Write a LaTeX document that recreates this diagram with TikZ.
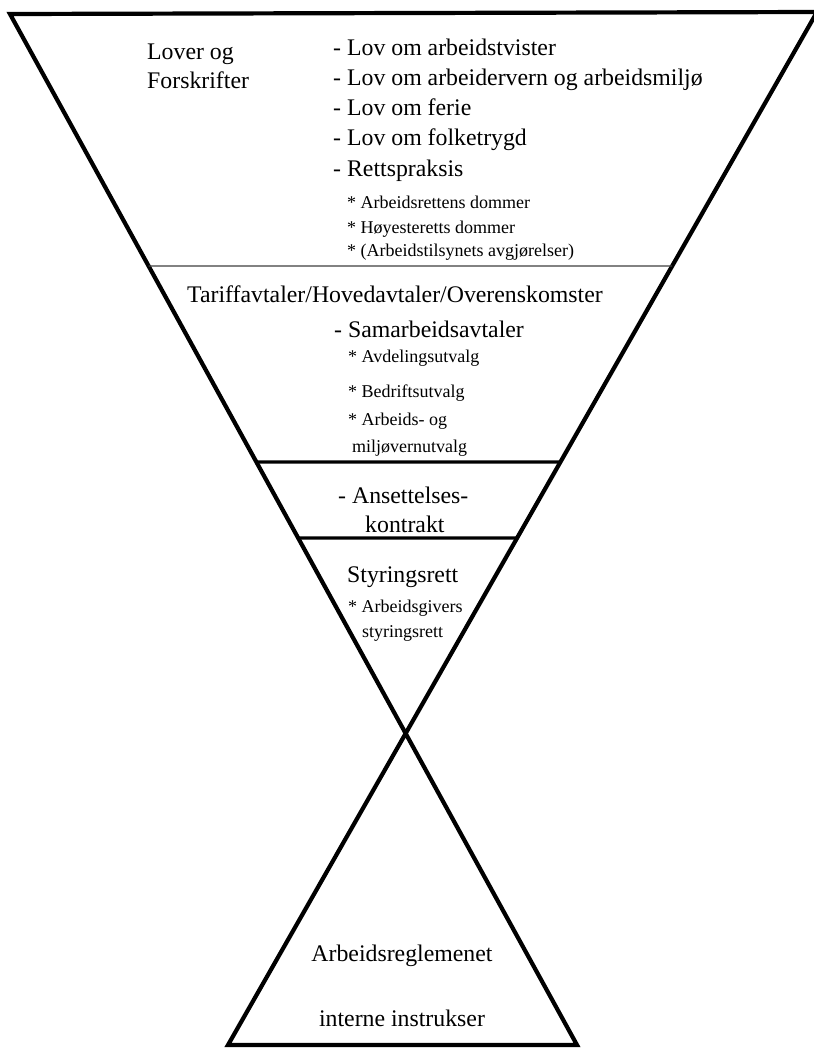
\documentclass[tikz,border=0pt]{standalone}
\usepackage{fontspec}
\setmainfont{Liberation Serif}
\usetikzlibrary{calc}
\begin{document}
\begin{tikzpicture}[x=1pt,y=-1pt,
  big/.style={font=\fontsize{23.8}{28}\selectfont, inner sep=0pt, anchor=base west},
  small/.style={font=\fontsize{18}{22}\selectfont, inner sep=0pt, anchor=base west},
  bigc/.style={font=\fontsize{23.8}{28}\selectfont, inner sep=0pt, anchor=base},
  outline/.style={line width=4.2pt, line join=miter},
  thindiv/.style={line width=1.4pt, draw=black!75},
  thickdiv/.style={line width=3.2pt}]
\useasboundingbox (0,0) rectangle (814,1050);
\clip (0,0) rectangle (814,1050);
\fill[white] (0,0) rectangle (814,1050);
% frame corners
\coordinate (TL) at (10,14);
\coordinate (TR) at (817,12);
\coordinate (BL) at (228,1045);
\coordinate (BR) at (577,1045);
\draw[outline] (BR) -- (TL) -- (TR) -- (BL) -- cycle;
% dividers
\coordinate (d1l) at ($(TL)!{252/1031}!(BR)$);
\coordinate (d1r) at ($(TR)!{254/1033}!(BL)$);
\coordinate (d2l) at ($(TL)!{448/1031}!(BR)$);
\coordinate (d2r) at ($(TR)!{450/1033}!(BL)$);
\coordinate (d3l) at ($(TL)!{524/1031}!(BR)$);
\coordinate (d3r) at ($(TR)!{526/1033}!(BL)$);
\draw[thindiv] (d1l) -- (d1r);
\draw[thickdiv] (d2l) -- (d2r);
\draw[thickdiv] (d3l) -- (d3r);
% section 1
\node[big] (lover) at (147,59) {Lover og};
\node[big] (forskr) at (147,88) {Forskrifter};
\node[big] (l1) at (333,55) {- Lov om arbeidstvister};
\node[big] (l2) at (333,85) {- Lov om arbeidervern og arbeidsmiljø};
\node[big] (l3) at (333,115) {- Lov om ferie};
\node[big] (l4) at (333,145) {- Lov om folketrygd};
\node[big] (l5) at (333,176) {- Rettspraksis};
\node[small] (s1) at (347,208) {* Arbeidsrettens dommer};
\node[small] (s2) at (347,233) {* Høyesteretts dommer};
\node[small] (s3) at (347,256) {* (Arbeidstilsynets avgjørelser)};
% section 2
\node[big] (tariff) at (187,302) {Tariffavtaler/Hovedavtaler/Overenskomster};
\node[big] (samarb) at (334,337) {- Samarbeidsavtaler};
\node[small] (avd) at (348,362) {* Avdelingsutvalg};
\node[small] (bedr) at (348,397) {* Bedriftsutvalg};
\node[small] (arb) at (348,425) {* Arbeids- og};
\node[small] (milj) at (352,452) {miljøvernutvalg};
% section 3
\node[big] (anset) at (338,503) {- Ansettelses-};
\node[big] (kontr) at (365,532) {kontrakt};
% section 4
\node[big] (styr) at (347,582) {Styringsrett};
\node[small] (agiv) at (348,612) {* Arbeidsgivers};
\node[small] (styr2) at (362,637) {styringsrett};
% bottom
\node[bigc] (areg) at (402,961) {Arbeidsreglemenet};
\node[bigc] (intern) at (402,1026) {interne instrukser};
\end{tikzpicture}
\end{document}
